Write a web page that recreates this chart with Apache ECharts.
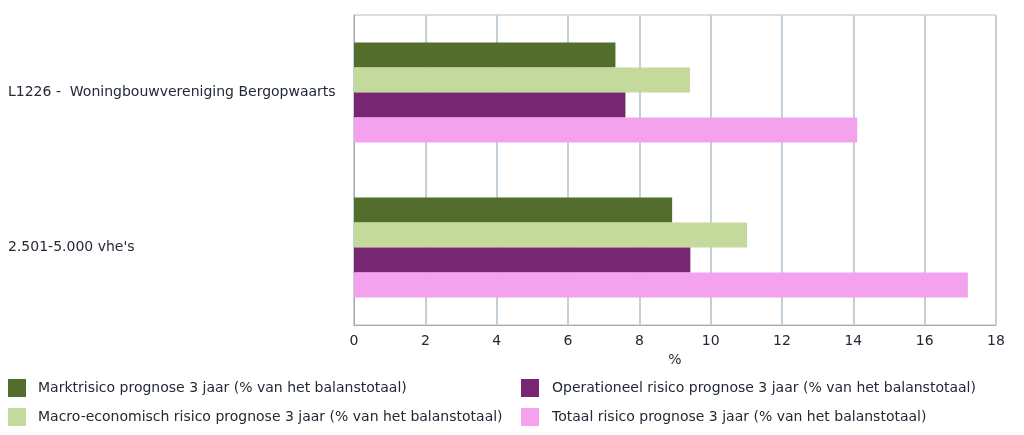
<!DOCTYPE html>
<html><head><meta charset="utf-8">
<script src="https://cdn.jsdelivr.net/npm/echarts@6/dist/echarts.min.js"></script>
<style>html,body{margin:0;padding:0;background:#fff}#c{width:1024px;height:435px}</style>
</head><body><div id="c"></div>
<script>
var categories = ["L1226 -  Woningbouwvereniging Bergopwaarts", "2.501-5.000 vhe's"];
var seriesNames = [
  "Marktrisico prognose 3 jaar (% van het balanstotaal)",
  "Macro-economisch risico prognose 3 jaar (% van het balanstotaal)",
  "Operationeel risico prognose 3 jaar (% van het balanstotaal)",
  "Totaal risico prognose 3 jaar (% van het balanstotaal)"
];
var markt = [7.33, 8.92];
var macro = [9.42, 11.02];
var operationeel = [7.61, 9.43];
var totaal = [14.11, 17.21];
var colors = ["#526d2c", "#c4da9c", "#772672", "#f4a1ee"];
var font = "DejaVu Sans";
var txt = "#222a36";

var data = [markt, macro, operationeel, totaal];
var series = seriesNames.map(function(n, i){
  return {name: n, type: 'bar', data: data[i], barWidth: 25, barGap: '0%',
    itemStyle: {color: colors[i]}};
});
var chart = echarts.init(document.getElementById('c'));
chart.setOption({
  animation: false,
  textStyle: {fontFamily: font},
  grid: {left: 354, right: 28, top: 15, bottom: 110, show: true, borderColor: '#b9bdc2', borderWidth: 1, containLabel: false},
  xAxis: {type: 'value', min: 0, max: 18, interval: 2,
    name: '%', nameLocation: 'middle', nameGap: 27,
    nameTextStyle: {fontFamily: font, fontSize: 14, color: txt},
    axisLine: {show: true, lineStyle: {color: '#a9adb2'}},
    axisTick: {show: false},
    axisLabel: {fontFamily: font, fontSize: 14, color: txt, margin: 9},
    splitLine: {show: true, lineStyle: {color: '#c3cfd9', width: 2}}},
  yAxis: {type: 'category', data: categories, inverse: true,
    axisLine: {show: true, lineStyle: {color: '#a9adb2'}},
    axisTick: {show: false},
    axisLabel: {fontFamily: font, fontSize: 14, color: txt, align: 'left', margin: 346},
    splitLine: {show: false}},
  legend: [
    {data: [seriesNames[0], seriesNames[1]], orient: 'vertical', left: 8, top: 379,
      itemWidth: 18, itemHeight: 18, itemGap: 11,
      textStyle: {fontFamily: font, fontSize: 14, color: txt, padding: [0, 0, 0, 7]},
      padding: 0, icon: 'rect'},
    {data: [seriesNames[2], seriesNames[3]], orient: 'vertical', left: 521, top: 379,
      itemWidth: 18, itemHeight: 18, itemGap: 11,
      textStyle: {fontFamily: font, fontSize: 14, color: txt, padding: [0, 0, 0, 8]},
      padding: 0, icon: 'rect'}
  ],
  series: series
});
</script></body></html>
